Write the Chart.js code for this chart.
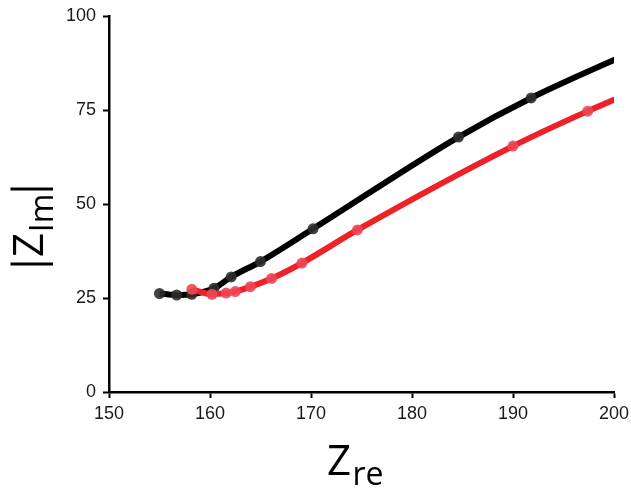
<!DOCTYPE html>
<html lang="en">
<head>
  <meta charset="UTF-8" />
  <title>Zim vs Zre</title>
  <script src="https://cdn.jsdelivr.net/npm/chart.js"></script>
  <style>
    html, body { margin: 0; padding: 0; background: #fff; }
    #wrap { width: 631px; height: 488px; }
  </style>
</head>
<body>
  <div id="wrap"><canvas id="nyquist"></canvas></div>

  <script>
    // black series
    const blackRe = [155.0, 156.7, 158.2, 160.4, 162.1, 165.0, 170.2, 184.6, 191.8, 205.0];
    const blackIm = [26.2, 25.8, 26.0, 27.6, 30.6, 34.7, 43.4, 67.8, 78.2, 94.2];
    // red series
    const redRe = [158.2, 160.2, 161.6, 162.5, 164.0, 166.1, 169.1, 174.6, 190.0, 197.4, 205.0];
    const redIm = [27.3, 26.0, 26.3, 26.7, 28.0, 30.2, 34.3, 43.1, 65.4, 74.7, 83.4];

    const xTicks = [150, 160, 170, 180, 190, 200];
    const yTicks = [0, 25, 50, 75, 100];

    const pts = (xs, ys) => xs.map((x, i) => ({ x: x, y: ys[i] }));

    // axis titles with subscripts
    const titlePlugin = {
      id: 'subTitles',
      afterDraw(chart) {
        const c = chart.ctx;
        c.save();
        c.fillStyle = '#000';
        c.textBaseline = 'alphabetic';
        c.textAlign = 'center';
        // x title: Z re
        c.font = '42px "Open Sans"';
        c.fillText('Z', 339, 475);
        c.font = '32px "Open Sans"';
        c.fillText('re', 368, 485);
        // y title: |Z Im|, rotated (u runs upward from y=268)
        c.translate(43, 268);
        c.rotate(-Math.PI / 2);
        c.font = '42px "Open Sans"';
        c.fillText('|', 4, 0);
        c.fillText('Z', 23, 0);
        c.fillText('|', 79, 0);
        c.font = '32px "Open Sans"';
        c.fillText('Im', 55, 10);
        c.restore();
      }
    };

    new Chart(document.getElementById('nyquist'), {
      type: 'scatter',
      data: {
        datasets: [
          {
            data: pts(redRe, redIm),
            showLine: true,
            borderColor: '#ee2127',
            borderWidth: 6,
            backgroundColor: 'rgba(238,70,85,0.9)',
            pointBorderWidth: 0,
            pointRadius: 5.5,
            cubicInterpolationMode: 'monotone',
            clip: 0
          },
          {
            data: pts(blackRe, blackIm),
            showLine: true,
            borderColor: '#000',
            borderWidth: 6,
            backgroundColor: 'rgba(45,45,45,0.9)',
            pointBorderWidth: 0,
            pointRadius: 5.5,
            cubicInterpolationMode: 'monotone',
            clip: 0
          }
        ]
      },
      options: {
        responsive: true,
        maintainAspectRatio: false,
        animation: false,
        layout: { padding: { top: 16, right: 17, left: 0, bottom: 0 } },
        plugins: { legend: { display: false }, tooltip: { enabled: false } },
        scales: {
          x: {
            type: 'linear',
            min: xTicks[0],
            max: xTicks[xTicks.length - 1],
            afterBuildTicks: s => { s.ticks = xTicks.map(v => ({ value: v })); },
            afterFit: s => { s.height = 96; s.paddingLeft = 0; s.paddingRight = 0; },
            border: { color: '#000', width: 2.5 },
            grid: { drawOnChartArea: false, drawTicks: true, tickLength: 6, tickColor: '#000', tickWidth: 2 },
            ticks: { color: '#1a1a1a', font: { family: 'Liberation Sans', size: 18 }, padding: 5, maxRotation: 0 }
          },
          y: {
            type: 'linear',
            min: yTicks[0],
            max: yTicks[yTicks.length - 1],
            afterBuildTicks: s => { s.ticks = yTicks.map(v => ({ value: v })); },
            afterFit: s => { s.width = 109; s.paddingTop = 0; s.paddingBottom = 0; },
            border: { color: '#000', width: 2.5 },
            grid: { drawOnChartArea: false, drawTicks: true, tickLength: 6, tickColor: '#000', tickWidth: 2 },
            ticks: { color: '#1a1a1a', font: { family: 'Liberation Sans', size: 18 }, padding: 7 }
          }
        }
      },
      plugins: [titlePlugin]
    });
  </script>
</body>
</html>
